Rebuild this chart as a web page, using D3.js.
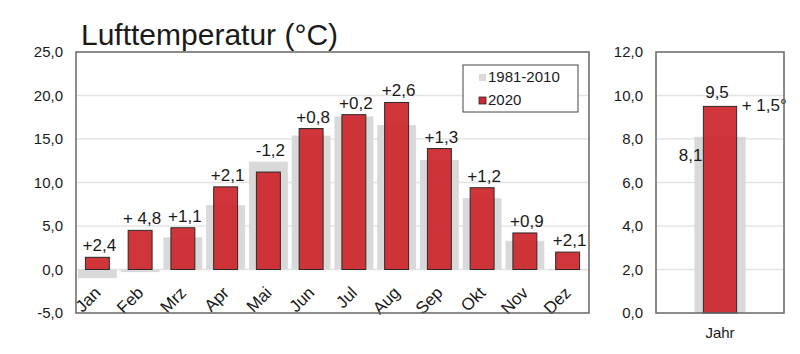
<!DOCTYPE html>
<html>
<head>
<meta charset="utf-8">
<script src="https://cdn.jsdelivr.net/npm/d3@7"></script>
<style>
  body { margin: 0; background: #fff; }
  text { font-family: "Liberation Sans", Arial, sans-serif; fill: #1a1a1a; }
</style>
</head>
<body>
<svg id="viz"></svg>
<script>
/* data */
var months = ["Jan", "Feb", "Mrz", "Apr", "Mai", "Jun", "Jul", "Aug", "Sep", "Okt", "Nov", "Dez"];
var normal = [-1.0, -0.3, 3.7, 7.4, 12.4, 15.4, 17.6, 16.6, 12.6, 8.2, 3.3, -0.1];
var year2020 = [1.4, 4.5, 4.8, 9.5, 11.2, 16.2, 17.8, 19.2, 13.9, 9.4, 4.2, 2.0];
var diffLabels = ["+2,4", "+ 4,8", "+1,1", "+2,1", "-1,2", "+0,8", "+0,2", "+2,6", "+1,3", "+1,2", "+0,9", "+2,1"];
var leftTicks = [-5, 0, 5, 10, 15, 20, 25];
var rightTicks = [0, 2, 4, 6, 8, 10, 12];
var yearNormal = 8.1;
var year2020Mean = 9.5;
var yearDiffLabel = "+ 1,5°";
var legendItems = ["1981-2010", "2020"];

var W = 800, H = 354;
var redFill = "#cc2a2e", greyFill = "#d9d9d9", frameCol = "#666", gridCol = "#e4e4e4";
var fmt = function(v){ return d3.format(".1f")(v).replace(".", ",").replace("\u2212", "-"); };

var svg = d3.select("#viz").attr("width", W).attr("height", H);

/* left panel */
var L = { x0: 76, x1: 589, y0: 52, y1: 313 };

var x = d3.scaleBand()
	.domain(months)
	.range([L.x0, L.x1]);

var y = d3.scaleLinear()
	.domain([-5, 25])
	.range([L.y1, L.y0]);

var gl = svg.append("g");

gl.selectAll(".grid")
	.data(leftTicks.filter(function(t){ return t > -5 && t < 25; }))
	.enter().append("line")
	.attr("x1", L.x0).attr("x2", L.x1)
	.attr("y1", function(d){ return y(d); })
	.attr("y2", function(d){ return y(d); })
	.attr("stroke", gridCol).attr("stroke-width", 1.5);

var yAxis = d3.axisLeft(y)
	.tickValues(leftTicks)
	.tickSize(0)
	.tickPadding(13)
	.tickFormat(fmt);

gl.append("g")
	.attr("transform", "translate(" + L.x0 + ",0)")
	.call(yAxis)
	.call(function(g){ g.select(".domain").remove(); })
	.selectAll("text")
	.style("font-size", "15px")
	.style("font-family", "Liberation Sans, Arial, sans-serif")
	.attr("fill", "#1a1a1a");

var greyW = x.bandwidth() * 0.91, redW = x.bandwidth() * 0.56;

gl.selectAll(".normal")
	.data(normal)
	.enter().append("rect")
	.attr("x", function(d, i){ return x(months[i]) + (x.bandwidth() - greyW) / 2; })
	.attr("width", greyW)
	.attr("y", function(d){ return y(Math.max(0, d)); })
	.attr("height", function(d){ return Math.abs(y(d) - y(0)); })
	.attr("fill", greyFill);

gl.selectAll(".y2020")
	.data(year2020)
	.enter().append("rect")
	.attr("x", function(d, i){ return x(months[i]) + (x.bandwidth() - redW) / 2; })
	.attr("width", redW)
	.attr("y", function(d){ return y(Math.max(0, d)); })
	.attr("height", function(d){ return Math.abs(y(d) - y(0)); })
	.attr("fill", redFill)
	.attr("fill-opacity", 0.95)
	.attr("stroke", "#2a2a2a")
	.attr("stroke-width", 1);

gl.selectAll(".diff")
	.data(diffLabels)
	.enter().append("text")
	.attr("x", function(d, i){ return x(months[i]) + x.bandwidth() / 2 + 2; })
	.attr("y", function(d, i){ return y(Math.max(normal[i], year2020[i])) - 6; })
	.attr("text-anchor", "middle")
	.style("font-size", "17px")
	.text(function(d){ return d; });

var monthG = gl.selectAll(".month")
	.data(months)
	.enter().append("g")
	.attr("transform", function(d){
		return "translate(" + (x(d) + x.bandwidth() / 2 - 4) + "," + (y(0) + 16) + ")";
	});

monthG.append("text")
	.attr("text-anchor", "end")
	.attr("transform", "rotate(-45)")
	.attr("dy", "0.7em")
	.style("font-size", "17px")
	.text(function(d){ return d; });

gl.append("rect")
	.attr("x", L.x0).attr("y", L.y0)
	.attr("width", L.x1 - L.x0).attr("height", L.y1 - L.y0)
	.attr("fill", "none").attr("stroke", frameCol).attr("stroke-width", 1.5);

/* legend */
var lg = gl.append("g").attr("transform", "translate(463,65)");
lg.append("rect")
	.attr("width", 115).attr("height", 47)
	.attr("fill", "#fff").attr("stroke", "#444").attr("stroke-width", 1);
lg.selectAll(".lgkey")
	.data(legendItems)
	.enter().append("rect")
	.attr("x", 16).attr("y", function(d, i){ return 9 + i * 23; })
	.attr("width", 7).attr("height", 7)
	.attr("fill", function(d, i){ return i ? redFill : greyFill; })
	.attr("stroke", function(d, i){ return i ? "#2a2a2a" : "none"; })
	.attr("stroke-width", 0.8);
lg.selectAll(".lgtext")
	.data(legendItems)
	.enter().append("text")
	.attr("x", 25).attr("y", function(d, i){ return 12 + i * 23; })
	.attr("dy", "0.36em")
	.style("font-size", "15px")
	.text(function(d){ return d; });

/* title */
svg.append("text")
	.attr("x", 81).attr("y", 45)
	.style("font-size", "30px")
	.text("Lufttemperatur (°C)");

/* right panel */
var R = { x0: 656, x1: 784, y0: 52, y1: 313 };

var x2 = d3.scaleBand()
	.domain(["Jahr"])
	.range([R.x0, R.x1]);

var y2 = d3.scaleLinear()
	.domain([0, 12])
	.range([R.y1, R.y0]);

var gr = svg.append("g");

gr.selectAll(".grid")
	.data(rightTicks.filter(function(t){ return t > 0 && t < 12; }))
	.enter().append("line")
	.attr("x1", R.x0).attr("x2", R.x1)
	.attr("y1", function(d){ return y2(d); })
	.attr("y2", function(d){ return y2(d); })
	.attr("stroke", gridCol).attr("stroke-width", 1.5);

gr.append("g")
	.attr("transform", "translate(" + R.x0 + ",0)")
	.call(d3.axisLeft(y2).tickValues(rightTicks).tickSize(0).tickPadding(13).tickFormat(fmt))
	.call(function(g){ g.select(".domain").remove(); })
	.selectAll("text")
	.style("font-size", "15px")
	.style("font-family", "Liberation Sans, Arial, sans-serif")
	.attr("fill", "#1a1a1a");

var cx = x2("Jahr") + x2.bandwidth() / 2;
var gW = x2.bandwidth() * 0.4, rW = x2.bandwidth() * 0.26;

gr.append("rect")
	.attr("x", cx - gW / 2).attr("width", gW)
	.attr("y", y2(yearNormal)).attr("height", y2(0) - y2(yearNormal))
	.attr("fill", greyFill);

gr.append("rect")
	.attr("x", cx - rW / 2).attr("width", rW)
	.attr("y", y2(year2020Mean)).attr("height", y2(0) - y2(year2020Mean))
	.attr("fill", redFill).attr("fill-opacity", 0.95)
	.attr("stroke", "#2a2a2a").attr("stroke-width", 1);

gr.append("text")
	.attr("x", cx - 3).attr("y", y2(year2020Mean) - 8)
	.attr("text-anchor", "middle")
	.style("font-size", "17px")
	.text(fmt(year2020Mean));

gr.append("text")
	.attr("x", cx + rW / 2 + 5).attr("y", y2(year2020Mean) + 5)
	.style("font-size", "17px")
	.text(yearDiffLabel);

gr.append("text")
	.attr("x", cx - gW / 2 + 8).attr("y", y2(yearNormal) + 24)
	.attr("text-anchor", "end")
	.style("font-size", "17px")
	.text(fmt(yearNormal));

gr.append("text")
	.attr("x", cx).attr("y", R.y1 + 25)
	.attr("text-anchor", "middle")
	.style("font-size", "15px")
	.text("Jahr");

gr.append("rect")
	.attr("x", R.x0).attr("y", R.y0)
	.attr("width", R.x1 - R.x0).attr("height", R.y1 - R.y0)
	.attr("fill", "none").attr("stroke", frameCol).attr("stroke-width", 1.5);
</script>
</body>
</html>
